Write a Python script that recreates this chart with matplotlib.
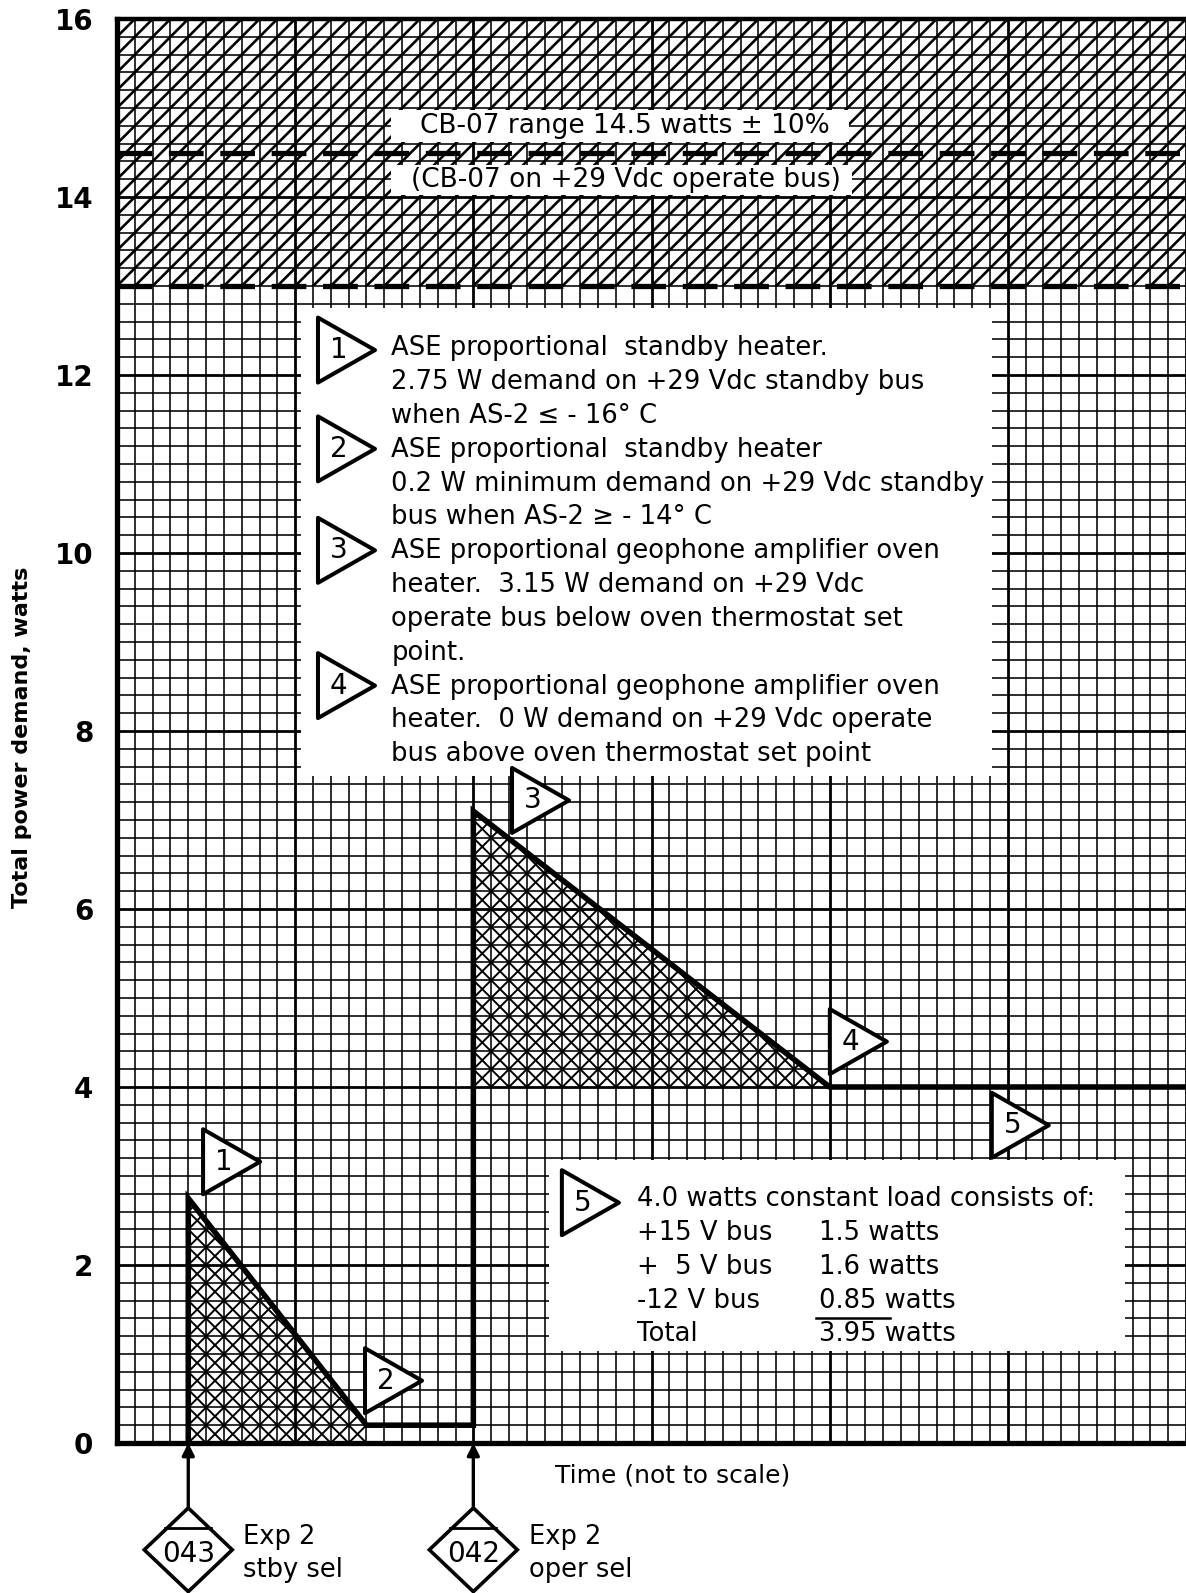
import numpy as np
import matplotlib
matplotlib.use("Agg")
import matplotlib.pyplot as plt
from matplotlib.patches import Polygon, Rectangle
from matplotlib.collections import LineCollection

plt.rcParams['font.family'] = ['DejaVu Sans']
plt.rcParams['lines.scale_dashes'] = False

# ---------------- data ----------------
time_pts = [4, 4, 14, 20, 20, 40, 60]          # time (not to scale, grid units)
power_w = [0.0, 2.75, 0.2, 0.2, 7.1, 4.0, 4.0]  # total power demand, watts
cb07_upper = 16.0
cb07_nominal = 14.5
cb07_lower = 13.0
y_ticks = [0, 2, 4, 6, 8, 10, 12, 14, 16]
cmd_times = [4, 20]
cmd_codes = ["043", "042"]
cmd_names = [["Exp 2", "stby sel"], ["Exp 2", "oper sel"]]

box1_lines = [
    "ASE proportional  standby heater.",
    "2.75 W demand on +29 Vdc standby bus",
    "when AS-2 \u2264 - 16\u00b0 C",
    "ASE proportional  standby heater",
    "0.2 W minimum demand on +29 Vdc standby",
    "bus when AS-2 \u2265 - 14\u00b0 C",
    "ASE proportional geophone amplifier oven",
    "heater.  3.15 W demand on +29 Vdc",
    "operate bus below oven thermostat set",
    "point.",
    "ASE proportional geophone amplifier oven",
    "heater.  0 W demand on +29 Vdc operate",
    "bus above oven thermostat set point",
]
box5_left = ["4.0 watts constant load consists of:", "+15 V bus", "+  5 V bus", "-12 V bus", "Total"]
box5_right = ["", "1.5 watts", "1.6 watts", "0.85 watts", "3.95 watts"]

# ---------------- figure ----------------
W, H = 1186, 1593
fig = plt.figure(figsize=(W / 100, H / 100), dpi=100, facecolor='white')
x0px, ybot, ytop = 117, 1443, 19
ax = fig.add_axes([x0px / W, 1 - ybot / H, 1 - x0px / W, (ybot - ytop) / H])
XMAX = 60
ax.set_xlim(0, XMAX)
ax.set_ylim(0, 16)

ax.set_xticks(np.arange(0, XMAX + 1, 10))
ax.set_xticks(np.arange(0, XMAX + 1, 1), minor=True)
ax.set_yticks(y_ticks)
ax.set_yticks(np.arange(0, 16.01, 0.2), minor=True)
ax.set_xticklabels([])
ax.tick_params(which='both', length=0)
ax.tick_params(axis='y', which='major', pad=17, labelsize=20)
for lab in ax.get_yticklabels():
    lab.set_fontweight('bold')
ax.set_axisbelow(True)
ax.grid(which='major', color='black', lw=2.0)
ax.grid(which='minor', color='black', lw=1.15)
for s in ['left', 'bottom']:
    ax.spines[s].set_linewidth(3.8)
ax.spines['top'].set_linewidth(3.2)
ax.spines['right'].set_visible(False)


def diag_lines(sign, clip_patch, lw, z):
    segs = []
    ya, yb = -1.0, 17.0
    for k in range(-120, 160):
        if sign > 0:   # x - 5y = k
            segs.append([(k + 5 * ya, ya), (k + 5 * yb, yb)])
        else:          # x + 5y = k
            segs.append([(k - 5 * ya, ya), (k - 5 * yb, yb)])
    lc = LineCollection(segs, colors='black', linewidths=lw, zorder=z)
    ax.add_collection(lc)
    lc.set_clip_path(clip_patch)


# --- CB-07 hatched range ---
top_region = Rectangle((0, cb07_lower), XMAX, cb07_upper - cb07_lower,
                       fc='none', ec='none', transform=ax.transData)
ax.add_patch(top_region)
diag_lines(+1, top_region, 1.9, 1.2)
for yv in [cb07_nominal, cb07_lower]:
    ax.plot([0, XMAX], [yv, yv], color='black', lw=3.8, ls=(0, (25, 12)), zorder=2,
            solid_capstyle='butt')

# --- crosshatched heater areas ---
fill1 = [(time_pts[0], 0), (time_pts[1], power_w[1]), (time_pts[2], power_w[2]), (time_pts[2], 0)]
fill3 = [(time_pts[4], power_w[5]), (time_pts[4], power_w[4]), (time_pts[5], power_w[5])]
for pts in [fill1, fill3]:
    p = Polygon(pts, closed=True, fc='none', ec='none')
    ax.add_patch(p)
    diag_lines(+1, p, 1.4, 1.5)
    diag_lines(-1, p, 1.4, 1.5)

# --- power line ---
ax.plot(time_pts, power_w, color='black', lw=4.0, zorder=5, solid_joinstyle='miter',
        clip_on=False)

# --- white boxes ---
def wbox(x1, x2, y1, y2):
    ax.add_patch(Rectangle((x1, y1), x2 - x1, y2 - y1, fc='white', ec='none', zorder=3))

wbox(15.38, 41.1, 14.62, 14.98)
wbox(15.38, 41.25, 14.02, 14.36)
wbox(10.3, 49.1, 7.5, 12.75)
wbox(24.24, 56.6, 1.03, 3.18)

ax.text(28.5, 14.80, "CB-07 range 14.5 watts \u00b1 10%", fontsize=19, ha='center',
        va='center', zorder=4)
ax.text(28.55, 14.19, "(CB-07 on +29 Vdc operate bus)", fontsize=19, ha='center',
        va='center', zorder=4)

FS = 18.6
y_first = 12.30
dy = 0.38
for i, line in enumerate(box1_lines):
    ax.text(15.4, y_first - i * dy, line, fontsize=FS, ha='left', va='center', zorder=4)

ys5 = [2.74, 2.36, 1.98, 1.60, 1.22]
for yl, l, r in zip(ys5, box5_left, box5_right):
    ax.text(29.18, yl, l, fontsize=FS, ha='left', va='center', zorder=4)
    if r:
        ax.text(39.4, yl, r, fontsize=FS, ha='left', va='center', zorder=4)
ax.plot([39.25, 43.4], [1.40, 1.40], color='black', lw=1.8, zorder=4)


# --- numbered triangle flags ---
def flag(xl, yc, num):
    w, h = 3.2, 0.73
    ax.add_patch(Polygon([(xl, yc + h / 2), (xl, yc - h / 2), (xl + w, yc)], closed=True,
                         fc='white', ec='black', lw=2.9, joinstyle='round', zorder=6,
                         clip_on=False))
    ax.text(xl + w * 0.36, yc, num, fontsize=20, ha='center', va='center', zorder=7)

flag(4.83, 3.16, "1")
flag(13.92, 0.70, "2")
flag(22.17, 7.22, "3")
flag(40.01, 4.51, "4")
flag(49.10, 3.57, "5")
flag(11.28, 12.28, "1")
flag(11.28, 11.17, "2")
flag(11.28, 10.03, "3")
flag(11.28, 8.51, "4")
flag(24.97, 2.70, "5")

# --- command diamonds ---
for t, code, names in zip(cmd_times, cmd_codes, cmd_names):
    cy, hw, hh = -1.20, 2.47, 0.47
    ax.add_patch(Polygon([(t, cy + hh), (t + hw, cy), (t, cy - hh), (t - hw, cy)], closed=True,
                         fc='white', ec='black', lw=2.6, joinstyle='miter', zorder=6,
                         clip_on=False))
    yl = -0.955
    half = hw * (1 - (cy + hh - yl) / hh)
    ax.plot([t - half, t + half], [yl, yl], color='black', lw=2.0, zorder=7, clip_on=False)
    ax.text(t, -1.25, code, fontsize=20, ha='center', va='center', zorder=7)
    ax.annotate('', xy=(t, 0), xytext=(t, cy + hh), annotation_clip=False,
                arrowprops=dict(arrowstyle='-|>', lw=2.4, color='black', mutation_scale=18,
                                shrinkA=0, shrinkB=0), zorder=6)
    ax.text(t + 3.1, -1.056, names[0], fontsize=18.5, ha='left', va='center')
    ax.text(t + 3.1, -1.427, names[1], fontsize=18.5, ha='left', va='center')

ax.text(31.2, -0.37, "Time (not to scale)", fontsize=18, ha='center', va='center')
fig.text(22 / W, 1 - 737 / H, "Total power demand, watts", rotation=90, fontsize=16,
         fontweight='bold', ha='center', va='center')

fig.savefig("out.png", dpi=100, facecolor='white')
